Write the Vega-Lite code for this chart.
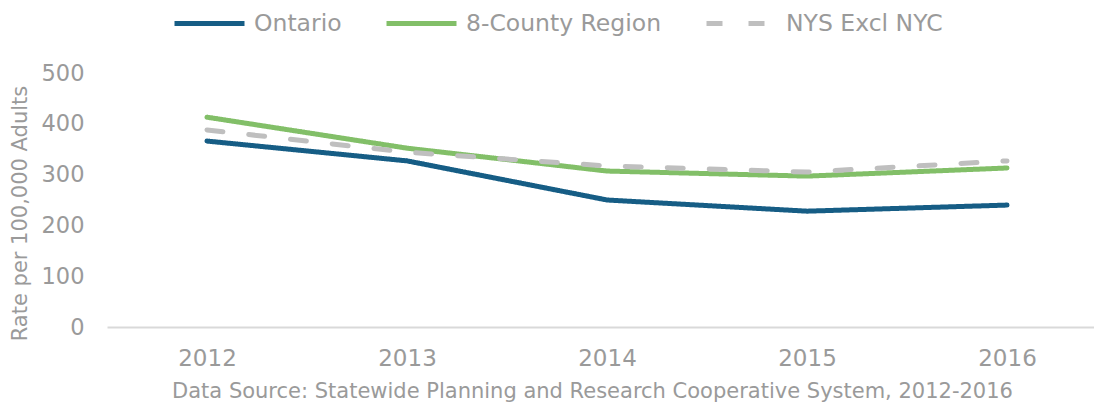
{
  "$schema": "https://vega.github.io/schema/vega-lite/v6.json",
  "width": 1000,
  "height": 254,
  "autosize": {"type": "none"},
  "padding": {"left": 107, "top": 73, "right": 0, "bottom": 80},
  "background": "white",
  "config": {
    "view": {"stroke": null},
    "font": "DejaVu Sans",
    "axis": {"labelFont": "DejaVu Sans", "titleFont": "DejaVu Sans"},
    "legend": {"labelFont": "DejaVu Sans"}
  },
  "data": {
    "values": [
      {"year": "2012", "series": "Ontario", "rate": 366},
      {"year": "2013", "series": "Ontario", "rate": 327},
      {"year": "2014", "series": "Ontario", "rate": 250},
      {"year": "2015", "series": "Ontario", "rate": 228},
      {"year": "2016", "series": "Ontario", "rate": 240},
      {"year": "2012", "series": "8-County Region", "rate": 413},
      {"year": "2013", "series": "8-County Region", "rate": 352},
      {"year": "2014", "series": "8-County Region", "rate": 307},
      {"year": "2015", "series": "8-County Region", "rate": 297},
      {"year": "2016", "series": "8-County Region", "rate": 313},
      {"year": "2012", "series": "NYS Excl NYC", "rate": 388},
      {"year": "2013", "series": "NYS Excl NYC", "rate": 344},
      {"year": "2014", "series": "NYS Excl NYC", "rate": 317},
      {"year": "2015", "series": "NYS Excl NYC", "rate": 305},
      {"year": "2016", "series": "NYS Excl NYC", "rate": 327}
    ]
  },
  "mark": {"type": "line", "strokeWidth": 5, "strokeCap": "round", "strokeJoin": "round"},
  "encoding": {
    "x": {
      "field": "year",
      "type": "ordinal",
      "scale": {"type": "point", "padding": 0.5},
      "axis": {
        "title": "Data Source: Statewide Planning and Research Cooperative System, 2012-2016",
        "titleFontSize": 21,
        "titleFontWeight": "normal",
        "titleColor": "#9a9a9a",
        "titlePadding": 10,
        "titleX": 485,
        "labelAngle": 0,
        "labelFontSize": 23,
        "labelColor": "#9a9a9a",
        "labelPadding": 20,
        "ticks": false,
        "domainColor": "#d9d9d9",
        "domainWidth": 2,
        "grid": false
      }
    },
    "y": {
      "field": "rate",
      "type": "quantitative",
      "scale": {"domain": [0, 500]},
      "axis": {
        "title": "Rate per 100,000 Adults",
        "titleFontSize": 21,
        "titleFontWeight": "normal",
        "titleColor": "#9a9a9a",
        "titleX": -77,
        "titleY": 140,
        "values": [0, 100, 200, 300, 400, 500],
        "labelFontSize": 22.5,
        "labelColor": "#9a9a9a",
        "labelPadding": 23,
        "ticks": false,
        "domain": false,
        "grid": false
      }
    },
    "color": {
      "field": "series",
      "type": "nominal",
      "sort": ["Ontario", "8-County Region", "NYS Excl NYC"],
      "scale": {
        "domain": ["Ontario", "8-County Region", "NYS Excl NYC"],
        "range": ["#165d85", "#82bf68", "#bfbfbf"]
      },
      "legend": {
        "title": null,
        "orient": "none",
        "direction": "horizontal",
        "legendX": 65,
        "legendY": -87,
        "symbolType": "stroke",
        "symbolSize": 4900,
        "symbolStrokeWidth": 5,
        "labelFontSize": 23.5,
        "labelColor": "#9a9a9a",
        "labelLimit": 400,
        "labelOffset": 7,
        "columnPadding": 34
      }
    },
    "strokeDash": {
      "field": "series",
      "type": "nominal",
      "sort": ["Ontario", "8-County Region", "NYS Excl NYC"],
      "scale": {
        "domain": ["Ontario", "8-County Region", "NYS Excl NYC"],
        "range": [[1, 0], [1, 0], [16, 26]]
      },
      "legend": {
        "title": null,
        "orient": "none",
        "direction": "horizontal",
        "legendX": 65,
        "legendY": -87,
        "symbolType": "stroke",
        "symbolSize": 4900,
        "symbolStrokeWidth": 5,
        "labelFontSize": 23.5,
        "labelColor": "#9a9a9a",
        "labelLimit": 400,
        "labelOffset": 7,
        "columnPadding": 34
      }
    }
  }
}
